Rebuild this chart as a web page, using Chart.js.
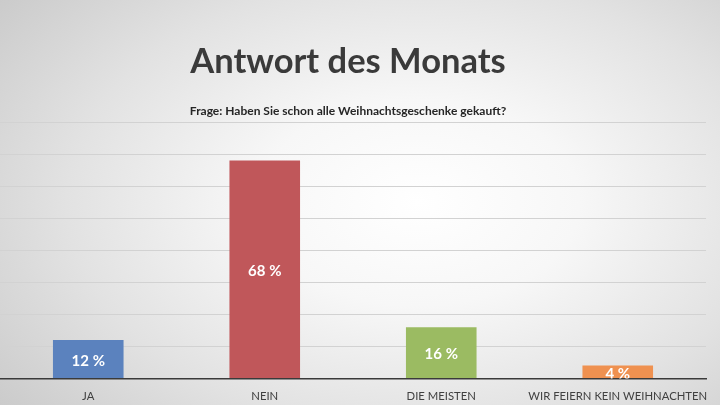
<!DOCTYPE html>
<html lang="de">
<head>
<meta charset="utf-8">
<script src="https://cdn.jsdelivr.net/npm/chart.js@4"></script>
<style>
  html, body { margin: 0; padding: 0; }
  body {
    width: 720px; height: 405px; overflow: hidden;
    background: radial-gradient(ellipse 75% 85% at 58% 50%, #ffffff 0%, #f7f7f7 30%, #e2e2e2 65%, #c9c9c9 100%);
  }
  #wrap { position: relative; width: 720px; height: 405px; }
</style>
</head>
<body>
<div id="wrap"><canvas id="chart"></canvas></div>
<script>
const categories = ['JA', 'NEIN', 'DIE MEISTEN', 'WIR FEIERN KEIN WEIHNACHTEN'];
const answers = [12, 68, 16, 4];
const barColors = ['#5b82be', '#c0575a', '#9bbb62', '#ef9150'];
const gridTicks = [0, 10, 20, 30, 40, 50, 60, 70, 80];
const titleText = 'Antwort des Monats';
const subtitleText = 'Frage: Haben Sie schon alle Weihnachtsgeschenke gekauft?';

// heading drawn by hand so it can sit a little left of the canvas centre
const headings = {
      id: 'headings',
      afterDraw(chart) {
            const ctx = chart.ctx;
            ctx.save();
            ctx.textAlign = 'center';
            ctx.textBaseline = 'middle';
            ctx.fillStyle = '#3a3a3a';
            ctx.font = 'bold 34.5px Lato';
            ctx.fillText(titleText, 348, 62);
            ctx.fillStyle = '#262626';
            ctx.font = 'bold 12px Lato';
            ctx.fillText(subtitleText, 348, 111);
            ctx.restore();
      }
};

// white percent labels in the middle of each bar
const barLabels = {
      id: 'barLabels',
      afterDatasetsDraw(chart) {
            const ctx = chart.ctx;
            const area = chart.chartArea;
            const meta = chart.getDatasetMeta(0);
            ctx.save();
            ctx.beginPath();
            ctx.rect(area.left, area.top, area.right - area.left, area.bottom - area.top);
            ctx.clip();
            ctx.fillStyle = '#ffffff';
            ctx.font = 'bold 15px Lato';
            ctx.textAlign = 'center';
            ctx.textBaseline = 'middle';
            meta.data.forEach((bar, i) => {
                  const mid = (bar.y + bar.base) / 2;
                  ctx.fillText(answers[i] + ' %', bar.x, mid + 2);
            });
            ctx.restore();
      }
};

new Chart(document.getElementById('chart').getContext('2d'), {
      type: 'bar',
      data: {
            labels: categories,
            datasets: [{
                  data: answers,
                  backgroundColor: barColors,
                  borderWidth: 0,
                  barPercentage: 0.8,
                  categoryPercentage: 0.5
            }]
      },
      options: {
            responsive: true,
            maintainAspectRatio: false,
            animation: false,
            layout: { padding: { left: -3, right: 14, top: 122, bottom: -1 } },
            plugins: {
                  legend: { display: false },
                  tooltip: { enabled: false },
                  title: { display: false }
            },
            scales: {
                  x: {
                        grid: { display: false },
                        border: { display: true, color: '#3a3a3a', width: 1.5 },
                        ticks: {
                              color: '#404040',
                              font: { family: 'Lato', size: 11.3 },
                              padding: 3,
                              maxRotation: 0,
                              autoSkip: false
                        }
                  },
                  y: {
                        min: 0,
                        max: 80,
                        afterBuildTicks(axis) {
                              axis.ticks = gridTicks.map(v => ({ value: v }));
                        },
                        grid: { color: '#d2d2d2', lineWidth: 1, drawTicks: false },
                        border: { display: false },
                        ticks: { display: false }
                  }
            }
      },
      plugins: [barLabels, headings]
});
</script>
</body>
</html>
